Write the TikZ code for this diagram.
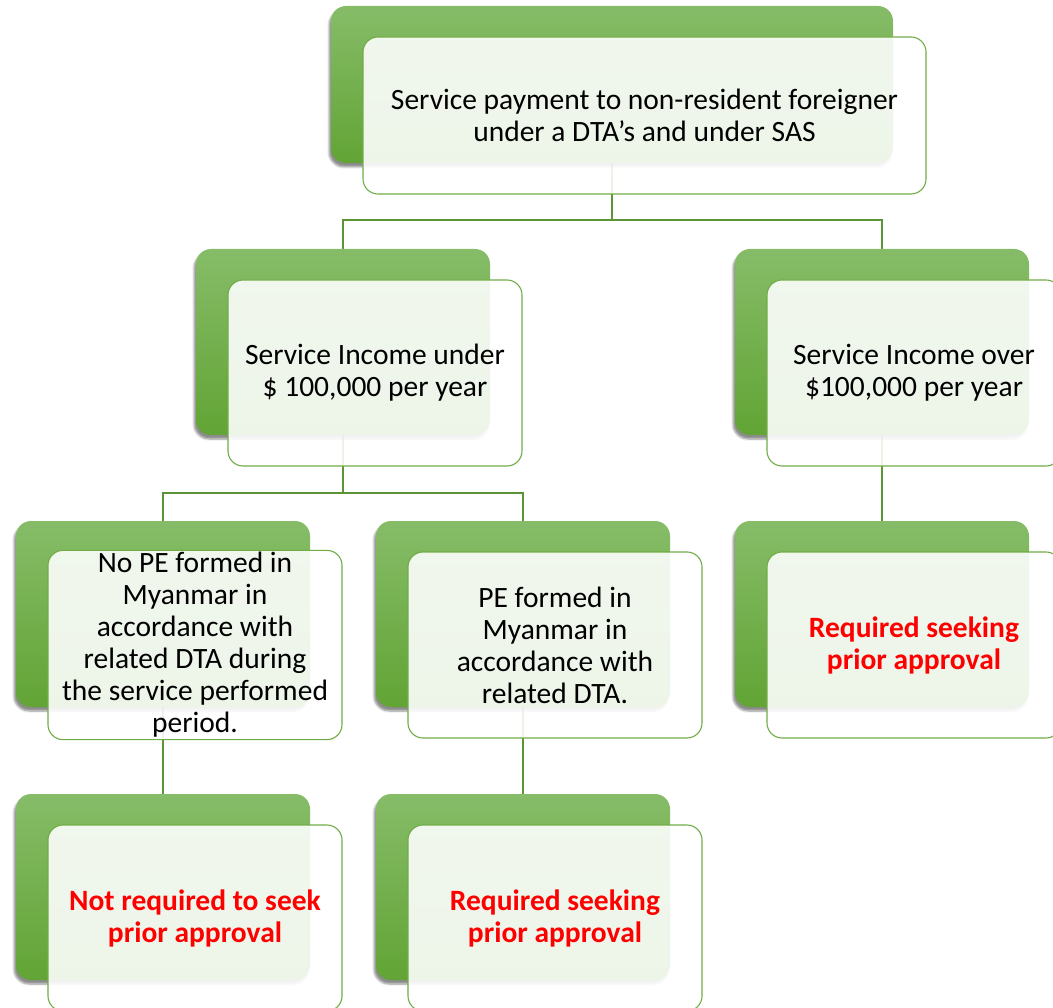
\documentclass[tikz,border=0pt]{standalone}
\usepackage{fontspec}
\setmainfont{Carlito}
\usetikzlibrary{shadows.blur}
\pgfdeclarelayer{wires}
\pgfsetlayers{wires,main}
\definecolor{gtop}{RGB}{134,188,104}
\definecolor{gbot}{RGB}{98,164,53}
\definecolor{edge}{RGB}{112,173,71}
\definecolor{wire}{RGB}{90,148,55}
\tikzset{
  backbox/.style={rounded corners=15pt, minimum width=294pt, minimum height=186pt,
    inner sep=0pt, top color=gtop, bottom color=gbot, draw=none,
    blur shadow={shadow xshift=-2pt, shadow yshift=-4pt, shadow blur steps=6, shadow opacity=45}},
  frontbox/.style={rounded corners=15pt, minimum width=294pt, minimum height=186pt,
    inner sep=2pt, draw=edge, line width=1.1pt, fill=white, fill opacity=0.89,
    text opacity=1, align=center, font=\fontsize{29.5}{32}\selectfont},
  link/.style={draw=wire, line width=2.6pt},
  note/.style={text=red, font=\bfseries}
}
\begin{document}
\begin{tikzpicture}[x=1pt,y=-1pt]
\useasboundingbox (0,0) rectangle (1053,1008);
\clip (0,0) rectangle (1053,1008);

% green back boxes
\node[backbox, minimum width=562pt, minimum height=157pt] (topB) at (612,84.5) {};
\node[backbox] (inLB) at (343,342) {};
\node[backbox] (inRB) at (882,342) {};
\node[backbox] (noPEB) at (163,614) {};
\node[backbox] (pePB) at (523,614) {};
\node[backbox] (reqRB) at (882,614) {};
\node[backbox] (notB) at (163,887) {};
\node[backbox] (reqMB) at (523,887) {};

% front boxes with the texts
\node[frontbox, minimum width=563pt, minimum height=157pt] (topF) at (644.5,115.5)
  {Service payment to non-resident foreigner\\under a DTA’s and under SAS};
\node[frontbox] (inLF) at (375,373) {Service Income under\\\$ 100,000 per year};
\node[frontbox] (inRF) at (914,373) {Service Income over\\\$100,000 per year};
\node[frontbox] (noPEF) at (195,645) {No PE formed in\\Myanmar in\\accordance with\\related DTA during\\the service performed\\period.};
\node[frontbox] (pePF) at (555,645) {PE formed in\\Myanmar in\\accordance with\\related DTA.};
\node[frontbox] (reqRF) at (914,645) {\textcolor{red}{\bfseries Required seeking}\\\textcolor{red}{\bfseries prior approval}};
\node[frontbox] (notF) at (195,918) {\textcolor{red}{\bfseries Not required to seek}\\\textcolor{red}{\bfseries prior approval}};
\node[frontbox] (reqMF) at (555,918) {\textcolor{red}{\bfseries Required seeking}\\\textcolor{red}{\bfseries prior approval}};

% junction rows of the tree
\coordinate (j1) at (612,220);
\coordinate (j2) at (343,493);

% connectors, kept underneath all boxes
\begin{pgfonlayer}{wires}
\path[link] (topB.south) -- (topB.south |- j1) -| (inLB.north);
\path[link] (topB.south |- j1) -| (inRB.north);
\path[link] (inLB.south) -- (inLB.south |- j2) -| (noPEB.north);
\path[link] (inLB.south |- j2) -| (pePB.north);
\path[link] (inRB.south) -- (reqRB.north);
\path[link] (noPEB.south) -- (notB.north);
\path[link] (pePB.south) -- (reqMB.north);
\end{pgfonlayer}
\end{tikzpicture}
\end{document}
